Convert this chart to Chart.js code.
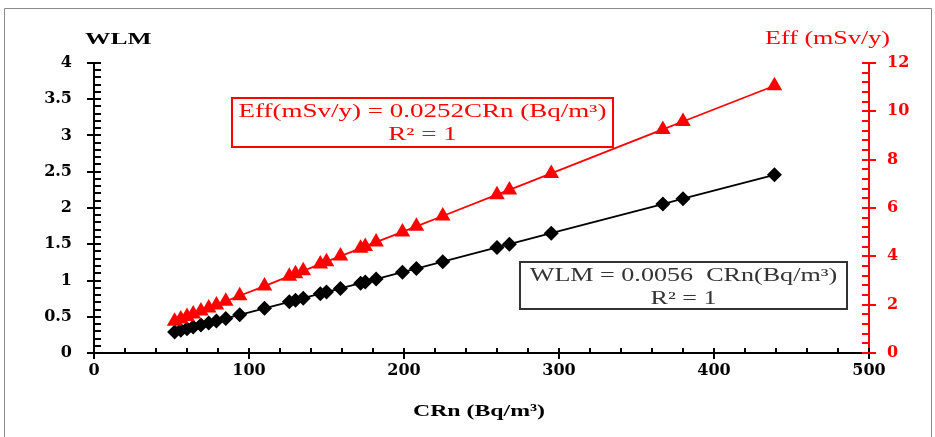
<!DOCTYPE html>
<html lang="en">
<head>
    <meta charset="UTF-8">
    <title>WLM and Eff vs CRn</title>
    <script src="https://cdn.jsdelivr.net/npm/chart.js"></script>
    <style>
        html, body {
            margin: 0;
            padding: 0;
            background: #ffffff;
        }
        .wrap {
            position: relative;
            width: 935px;
            height: 437px;
        }
    </style>
</head>
<body>
    <div class="wrap">
        <canvas id="myChart" width="935" height="437"></canvas>
    </div>

    <script>
        // Radon concentration (Bq/m3)
        const crn = [52, 56, 60, 64, 69, 74, 79, 85, 94, 110, 126, 130, 135, 146, 150, 159, 172, 175, 182, 199, 208, 225, 260, 268, 295, 367, 380, 439];
        // WLM (left axis, black diamonds)
        const wlm = [0.291, 0.314, 0.336, 0.358, 0.386, 0.414, 0.442, 0.476, 0.526, 0.616, 0.706, 0.728, 0.756, 0.818, 0.840, 0.890, 0.963, 0.980, 1.019, 1.114, 1.165, 1.260, 1.456, 1.501, 1.652, 2.055, 2.128, 2.458];
        // Effective dose mSv/y (right axis, red triangles)
        const eff = [1.31, 1.41, 1.51, 1.61, 1.74, 1.86, 1.99, 2.14, 2.37, 2.77, 3.18, 3.28, 3.40, 3.68, 3.78, 4.01, 4.33, 4.41, 4.59, 5.01, 5.24, 5.67, 6.55, 6.75, 7.43, 9.25, 9.58, 11.06];

        const effLines = ['Eff(mSv/y) = 0.0252CRn (Bq/m³)', 'R² = 1'];
        const wlmLines = ['WLM = 0.0056  CRn(Bq/m³)', 'R² = 1'];

        const SERIF = '"Liberation Serif", "DejaVu Serif", serif';
        const TICKFONT = '"DejaVu Serif", serif';
        const RED = '#ff0000';

        // text squeezed wider, like the stretched original image
        function wideText(c, txt, x, y, sx) {
            c.save();
            c.translate(x, y);
            c.scale(sx, 1);
            c.fillText(txt, 0, 0);
            c.restore();
        }

        // minor ticks, titles, equation boxes
        const extras = {
            id: 'extras',
            afterDraw(chart) {
                const c = chart.ctx;
                const x = chart.scales.x, y = chart.scales.y, y2 = chart.scales.y2;
                c.save();

                // outer frame
                c.strokeStyle = '#8a8a8a';
                c.lineWidth = 1;
                c.beginPath();
                c.moveTo(4.5, 437);
                c.lineTo(4.5, 8.5);
                c.lineTo(931.5, 8.5);
                c.lineTo(931.5, 437);
                c.stroke();

                // ticks
                c.lineWidth = 2;
                c.strokeStyle = '#000';
                c.beginPath();
                for (let v = 0; v <= 4.0001; v += 0.1) {
                    const p = Math.round(y.getPixelForValue(v));
                    const major = Math.abs(v * 2 - Math.round(v * 2)) < 0.001;
                    c.moveTo(x.left - (major ? 7 : 0), p);
                    c.lineTo(x.left + 7, p);
                }
                for (let v = 0; v <= 500; v += 20) {
                    const p = Math.round(x.getPixelForValue(v));
                    const major = v % 100 === 0;
                    c.moveTo(p, y.bottom + (major ? 6 : 0));
                    c.lineTo(p, y.bottom - 5);
                }
                c.stroke();

                c.strokeStyle = RED;
                c.beginPath();
                for (let v = 0; v <= 12.0001; v += 0.4) {
                    const p = Math.round(y2.getPixelForValue(v));
                    const major = Math.abs(v / 2 - Math.round(v / 2)) < 0.001;
                    c.moveTo(x.right + (major ? 7 : 0), p);
                    c.lineTo(x.right - 7, p);
                }
                c.stroke();

                // axis titles
                c.textBaseline = 'alphabetic';
                c.textAlign = 'left';
                c.fillStyle = '#000';
                c.font = 'bold 17px ' + SERIF;
                wideText(c, 'WLM', 85, 44, 1.5);
                c.textAlign = 'center';
                wideText(c, 'CRn (Bq/m³)', 479, 416, 1.4);
                c.fillStyle = RED;
                c.font = '18px ' + SERIF;
                c.textAlign = 'left';
                wideText(c, 'Eff (mSv/y)', 765, 44, 1.45);

                // equation boxes
                function box(lines, l, t, r, b, col, sx) {
                    c.fillStyle = '#fff';
                    c.fillRect(l, t, r - l, b - t);
                    c.strokeStyle = col;
                    c.lineWidth = 2;
                    c.strokeRect(l, t, r - l, b - t);
                    c.fillStyle = col;
                    c.font = '18px ' + SERIF;
                    c.textAlign = 'center';
                    const cx = (l + r) / 2;
                    wideText(c, lines[0], cx, t + 19, sx);
                    wideText(c, lines[1], cx, t + 42, sx);
                }
                box(effLines, 232, 98, 613, 147, RED, 1.5);
                box(wlmLines, 520, 262, 847, 309, '#333', 1.45);

                c.restore();
            }
        };

        const ctx = document.getElementById('myChart').getContext('2d');
        const chart = new Chart(ctx, {
            type: 'scatter',
            data: {
                datasets: [
                    {
                        label: 'Eff',
                        data: crn.map((v, i) => ({ x: v, y: eff[i] })),
                        yAxisID: 'y2',
                        showLine: true,
                        borderColor: RED,
                        backgroundColor: RED,
                        borderWidth: 1.8,
                        pointStyle: 'triangle',
                        pointRadius: 9,
                        pointBorderWidth: 0
                    },
                    {
                        label: 'WLM',
                        data: crn.map((v, i) => ({ x: v, y: wlm[i] })),
                        yAxisID: 'y',
                        showLine: true,
                        borderColor: '#000',
                        backgroundColor: '#000',
                        borderWidth: 1.8,
                        pointStyle: 'rectRot',
                        pointRadius: 7.5,
                        pointBorderWidth: 0
                    }
                ]
            },
            options: {
                responsive: false,
                animation: false,
                layout: { padding: { top: 63, left: 0, right: 0, bottom: 0 } },
                plugins: {
                    legend: { display: false },
                    tooltip: { enabled: false }
                },
                scales: {
                    x: {
                        type: 'linear',
                        min: 0,
                        max: 500,
                        ticks: {
                            stepSize: 100,
                            color: '#000',
                            padding: 8,
                            font: { family: TICKFONT, size: 16, weight: 'bold' }
                        },
                        grid: { display: false, drawTicks: false },
                        border: { color: '#000', width: 2 },
                        afterFit: s => { s.height = 84; }
                    },
                    y: {
                        position: 'left',
                        min: 0,
                        max: 4,
                        ticks: {
                            stepSize: 0.5,
                            color: '#000',
                            padding: 22,
                            callback: v => String(v),
                            font: { family: TICKFONT, size: 16, weight: 'bold' }
                        },
                        grid: { display: false, drawTicks: false },
                        border: { color: '#000', width: 2 },
                        afterFit: s => { s.width = 94; }
                    },
                    y2: {
                        position: 'right',
                        min: 0,
                        max: 12,
                        ticks: {
                            stepSize: 2,
                            color: RED,
                            padding: 18,
                            callback: v => String(v),
                            font: { family: TICKFONT, size: 16, weight: 'bold' }
                        },
                        grid: { display: false, drawTicks: false },
                        border: { color: RED, width: 2 },
                        afterFit: s => { s.width = 66; }
                    }
                }
            },
            plugins: [extras]
        });
    </script>
</body>
</html>
